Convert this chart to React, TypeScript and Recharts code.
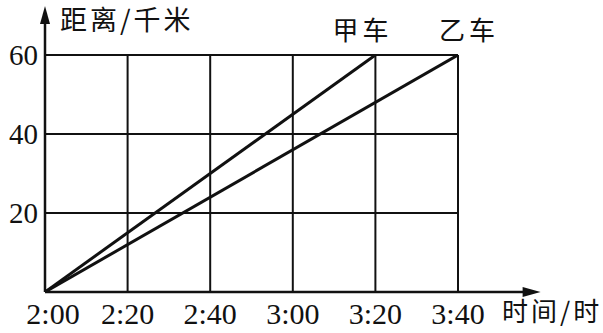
import React from "react";
import { LineChart, Line, XAxis, YAxis, CartesianGrid, ReferenceLine } from "recharts";

// minutes after 2:00 for each tick, and the distance ticks in km
const timeTicks = [0, 20, 40, 60, 80, 100];
const timeLabels = ["2:00", "2:20", "2:40", "3:00", "3:20", "3:40"];
const distanceTicks = [0, 20, 40, 60];

// car A (甲车) and car B (乙车): minutes after 2:00 vs distance in km
const jiaData = [
  { t: 0, d: 0 },
  { t: 80, d: 60 },
];
const yiData = [
  { t: 0, d: 0 },
  { t: 100, d: 60 },
];

const seriesNames = { jia: "甲车", yi: "乙车" };

// where the axis arrows end (beyond the plotted range)
const xArrowEnd = 120;
const yArrowEnd = 72.4;

const W = 603;
const H = 333;
const serif = "'Liberation Serif', 'Times New Roman', serif";
const cjk = "'Noto Sans CJK SC', sans-serif";

const fmtTime = (m: number) => {
  const i = timeTicks.indexOf(m);
  return i >= 0 ? timeLabels[i] : "";
};

const fmtDistance = (v: number) => (v === 0 ? "" : String(v));

const TimeTick = (p: any) => {
  const { x, y, payload, index } = p;
  return (
    <text
      x={x + (index === 0 ? 8 : 0)}
      y={y + 30}
      textAnchor="middle"
      fontFamily={serif}
      fontSize={30}
      fill="#111"
    >
      {fmtTime(payload.value)}
    </text>
  );
};

const ArrowLine = (props: any) => {
  const { x1, y1, x2, y2 } = props;
  const horizontal = Math.abs(y2 - y1) < Math.abs(x2 - x1);
  let head: string;
  if (horizontal) {
    head = `${x2},${y2} ${x2 - 18},${y2 - 5} ${x2 - 18},${y2 + 5}`;
  } else {
    head = `${x2},${y2} ${x2 - 5},${y2 + 18} ${x2 + 5},${y2 + 18}`;
  }
  const ex = horizontal ? x2 - 10 : x2;
  const ey = horizontal ? y2 : y2 + 10;
  return (
    <g>
      <line x1={x1} y1={y1} x2={ex} y2={ey} stroke="#111" strokeWidth={2.5} />
      <polygon points={head} fill="#111" />
    </g>
  );
};

const endLabel = (name: string, lastIndex: number, dx: number) => (p: any) => {
  if (p.index !== lastIndex) return null;
  return (
    <text
      key={name}
      x={p.x + dx}
      y={p.y - 15}
      textAnchor="middle"
      fontFamily={cjk}
      fontSize={26}
      letterSpacing={4}
      fill="#111"
    >
      {name}
    </text>
  );
};

export default function App() {
  return (
    <div style={{ position: "absolute", left: 0, top: 0, width: W, height: H, background: "#fff" }}>
      <LineChart
        width={W}
        height={H}
        margin={{ top: 55, right: 145, bottom: 0, left: 0 }}
        style={{ overflow: "visible" }}
      >
        <CartesianGrid stroke="#111" strokeWidth={2} strokeDasharray="" />
        <XAxis
          type="number"
          dataKey="t"
          domain={[0, 100]}
          ticks={timeTicks}
          tickFormatter={fmtTime}
          height={41}
          axisLine={false}
          tickLine={false}
          tickSize={0}
          interval={0}
          tick={<TimeTick />}
          allowDataOverflow
        />
        <YAxis
          type="number"
          dataKey="d"
          domain={[0, 60]}
          ticks={distanceTicks}
          tickFormatter={fmtDistance}
          width={45}
          axisLine={false}
          tickLine={false}
          tickSize={0}
          tickMargin={7}
          interval={0}
          tick={{ fill: "#111", fontFamily: serif, fontSize: 29 }}
          allowDataOverflow
        />
        <ReferenceLine
          segment={[{ x: 0, y: 0 }, { x: xArrowEnd, y: 0 }]}
          ifOverflow="visible"
          shape={ArrowLine}
        />
        <ReferenceLine
          segment={[{ x: 0, y: 0 }, { x: 0, y: yArrowEnd }]}
          ifOverflow="visible"
          shape={ArrowLine}
        />
        <Line
          data={jiaData}
          dataKey="d"
          type="linear"
          stroke="#111"
          strokeWidth={3}
          dot={false}
          isAnimationActive={false}
          label={endLabel(seriesNames.jia, jiaData.length - 1, -13)}
        />
        <Line
          data={yiData}
          dataKey="d"
          type="linear"
          stroke="#111"
          strokeWidth={3}
          dot={false}
          isAnimationActive={false}
          label={endLabel(seriesNames.yi, yiData.length - 1, 11)}
        />
      </LineChart>
      <svg
        width={W}
        height={H}
        style={{ position: "absolute", left: 0, top: 0, pointerEvents: "none" }}
      >
        <text x={60} y={30} fontFamily={cjk} fontSize={27} letterSpacing={3} fill="#111">
          距离/千米
        </text>
        <text x={502} y={321} fontFamily={cjk} fontSize={26} letterSpacing={3} fill="#111">
          时间/时
        </text>
      </svg>
    </div>
  );
}
